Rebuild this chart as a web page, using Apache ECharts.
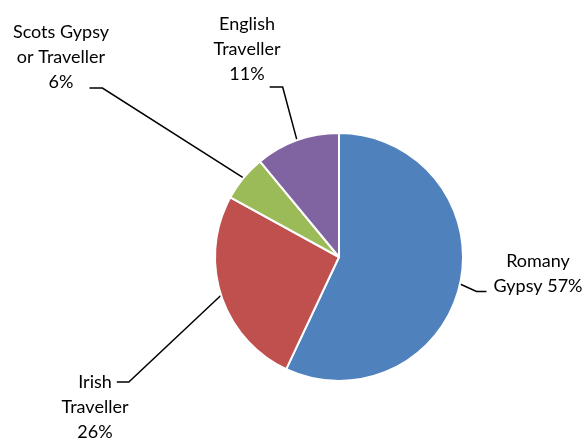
<!DOCTYPE html>
<html>
<head>
<meta charset="utf-8">
<script src="https://cdn.jsdelivr.net/npm/echarts@6/dist/echarts.min.js"></script>
<style>html,body{margin:0;padding:0;background:#fff;}#c{width:587px;height:440px;}</style>
</head>
<body>
<div id="c"></div>
<script>
const categories = ['Romany Gypsy', 'Irish Traveller', 'Scots Gypsy or Traveller', 'English Traveller'];
const labelTexts = ['Romany\nGypsy 57%', 'Irish\nTraveller\n26%', 'Scots Gypsy\nor Traveller\n6%', 'English\nTraveller\n11%'];
const values = [57, 26, 6, 11];
const colors = ['#4F81BD', '#C0504D', '#9BBB59', '#8064A2'];

// layout (not data)
const PIE_CX = 339, PIE_CY = 257, PIE_R = 124;
const FONT_SIZE = 18, LINE_H = 25, FONT_FAMILY = 'Lato';
const labelPos = [[538, 274], [95, 407], [61, 57], [247, 49]];
// leader attachment: [text line index, vertical offset, gap from text, side(-1 left of text, 1 right), horizontal segment length]
const attach = [[1, 5, 7, -1, 10], [0, 0, 5, 1, 12], [2, 6, 16, 1, 13], [2, 13, 5, 1, 13]];

const measureCtx = document.createElement('canvas').getContext('2d');
measureCtx.font = FONT_SIZE + 'px ' + FONT_FAMILY;

const total = values.reduce((a, b) => a + b, 0);
function midAngle(idx) {
  let cum = 0;
  for (let i = 0; i < idx; i++) cum += values[i];
  const a0 = -Math.PI / 2 + cum / total * Math.PI * 2;
  const a1 = a0 + values[idx] / total * Math.PI * 2;
  return (a0 + a1) / 2;
}

const chart = echarts.init(document.getElementById('c'), null, {renderer: 'canvas'});
chart.setOption({
  backgroundColor: '#ffffff',
  animation: false,
  series: [{
    type: 'pie',
    center: [PIE_CX, PIE_CY],
    radius: [0, PIE_R],
    startAngle: 90,
    clockwise: true,
    data: categories.map((c, i) => ({
      name: c,
      value: values[i],
      itemStyle: {color: colors[i]},
      label: {formatter: labelTexts[i]}
    })),
    itemStyle: {borderColor: '#ffffff', borderWidth: 2},
    label: {
      show: true,
      color: '#000000',
      fontFamily: FONT_FAMILY,
      fontSize: FONT_SIZE,
      lineHeight: LINE_H,
      align: 'center'
    },
    labelLine: {
      show: true,
      length: 15,
      length2: 8,
      lineStyle: {color: '#000000', width: 1.5}
    },
    labelLayout: function (params) {
      const i = params.dataIndex;
      const p = labelPos[i];
      const lines = labelTexts[i].split('\n');
      const a = attach[i];
      const lineY = p[1] + (a[0] - (lines.length - 1) / 2) * LINE_H + a[1];
      const w = measureCtx.measureText(lines[a[0]]).width;
      const ax = p[0] + a[3] * (w / 2 + a[2]);
      const ex = ax + a[3] * a[4];
      const m = midAngle(i);
      const p0 = [PIE_CX + PIE_R * Math.cos(m), PIE_CY + PIE_R * Math.sin(m)];
      return {
        x: p[0], y: p[1], align: 'center', verticalAlign: 'middle',
        labelLinePoints: [p0, [ex, lineY], [ax, lineY]]
      };
    }
  }]
});
</script>
</body>
</html>
